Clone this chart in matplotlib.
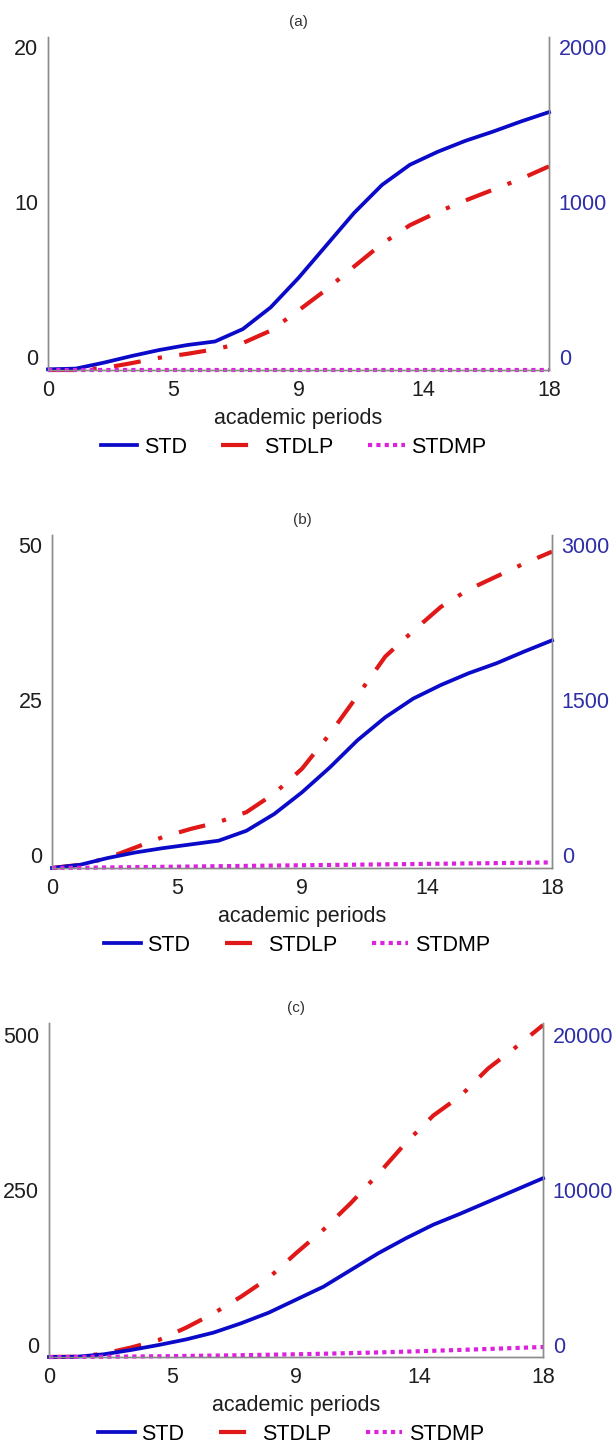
#!/usr/bin/env python3
"""Growth of STD, STDLP and STDMP over academic periods, three scenarios."""

import numpy as np
import matplotlib
matplotlib.use("Agg")
import matplotlib.pyplot as plt

plt.rcParams['font.family'] = ['Liberation Sans', 'DejaVu Sans']

periods = np.arange(19)
xtick_labels = ['0', '5', '9', '14', '18']

# scenario (a)
std_a = [-0.8, -0.75, -0.37, 0.06, 0.45, 0.77, 1.0, 1.8, 3.2, 5.1, 7.2,
         9.3, 11.1, 12.4, 13.24, 13.95, 14.55, 15.2, 15.8]
stdlp_a = [-0.84, -0.84, -0.72, -0.4, -0.05, 0.2, 0.5, 0.9, 1.7, 3.0, 4.35,
           5.84, 7.3, 8.5, 9.35, 10.1, 10.8, 11.5, 12.3]
stdmp_a = [-84, -84, -84, -84, -84, -84, -84, -84, -84, -84, -84,
           -84, -84, -84, -84, -84, -84, -84, -84]

# scenario (b)
std_b = [-2.1, -1.6, -0.5, 0.4, 1.1, 1.7, 2.3, 3.9, 6.6, 10.1, 14.1,
         18.5, 22.2, 25.2, 27.4, 29.3, 30.9, 32.8, 34.6]
stdlp_b = [-2.1, -1.6, -0.5, 1.2, 2.9, 4.2, 5.3, 6.9, 9.9, 13.9, 19.5,
           25.7, 32.0, 36.1, 40.0, 42.8, 44.9, 47.0, 48.9]
stdmp_b = [-126, -124, -121, -118, -115, -112, -109, -106, -103, -100, -97,
           -94, -91, -88, -85, -82, -79, -76, -72]

# scenario (c)
std_c = [-19.4, -19, -15, -8, 0, 9, 20, 35, 52, 73, 94,
         121, 148, 172, 194, 212, 231, 250, 269]
stdlp_c = [-19.4, -19, -14, -4, 8, 28, 51, 78, 108, 148, 186,
           229, 276, 326, 370, 402, 446, 480, 516]
stdmp_c = [-776, -770, -760, -745, -728, -708, -685, -660, -632, -600, -565,
           -525, -480, -430, -375, -318, -258, -195, -130]

panels = [
    # label, std, stdlp, stdmp, left ticks, left lim, right ticks, right lim
    ('(a)', std_a, stdlp_a, stdmp_a, [0, 10, 20], (-0.84, 20.65),
     [0, 1000, 2000], (-84, 2065)),
    ('(b)', std_b, stdlp_b, stdmp_b, [0, 25, 50], (-2.1, 51.6),
     [0, 1500, 3000], (-126, 3096)),
    ('(c)', std_c, stdlp_c, stdmp_c, [0, 250, 500], (-19.4, 519.4),
     [0, 10000, 20000], (-776, 20776)),
]

# axes rectangles in figure fractions
boxes = [
    (0.0783, 0.7436, 0.8173, 0.2308),
    (0.0848, 0.3985, 0.8157, 0.2308),
    (0.0799, 0.0596, 0.8060, 0.2315),
]

BLUE = '#0a0ac8'
RED = '#e01818'
MAGENTA = '#dd22dd'
SPINE = '#8c8c8c'
RIGHT_TXT = '#2e2ea8'
FS = 15.5

fig = plt.figure(figsize=(6.13, 14.43), dpi=100)

for (label, std, stdlp, stdmp, lt, ll, rt, rl), box in zip(panels, boxes):
    ax = fig.add_axes(box)
    ax2 = ax.twinx()

    l1, = ax.plot(periods, std, color=BLUE, lw=2.7, label='STD',
                  solid_joinstyle='round', clip_on=False, zorder=3)
    l2, = ax.plot(periods, stdlp, color=RED, lw=3.0, label='STDLP',
                  dashes=(6.5, 4.2, 1.0, 4.2), dash_capstyle='butt',
                  clip_on=False, zorder=2)
    l3, = ax2.plot(periods, stdmp, color=MAGENTA, lw=3.0, label='STDMP',
                   dashes=(1.0, 1.0), dash_capstyle='butt', clip_on=False)

    ax.set_xlim(0, 18)
    ax.set_xticks(np.linspace(0, 18, 5))
    ax.set_xticklabels(xtick_labels)
    ax.set_ylim(*ll)
    ax.set_yticks(lt)
    ax2.set_ylim(*rl)
    ax2.set_yticks(rt)

    for a in (ax, ax2):
        a.spines['top'].set_visible(False)
        for s in ('left', 'right', 'bottom'):
            a.spines[s].set_color(SPINE)
            a.spines[s].set_linewidth(1.0)
        a.tick_params(length=0, labelsize=FS, pad=7)
    ax.tick_params(colors='#1e1e1e')
    ax2.tick_params(axis='y', colors=RIGHT_TXT)

    ax.set_xlabel('academic periods', fontsize=FS, color='#1e1e1e',
                  labelpad=5)
    ax.text(0.5, 1.045, label, transform=ax.transAxes, ha='center',
            va='center', fontsize=11, color='#333333')

    ax.legend(handles=[l1, l2, l3], loc='center',
              bbox_to_anchor=(0.49, -0.232), ncol=3, frameon=False,
              fontsize=FS, handlelength=1.7, handletextpad=0.3,
              columnspacing=1.6, borderaxespad=0)

fig.savefig('out.png', dpi=100)
